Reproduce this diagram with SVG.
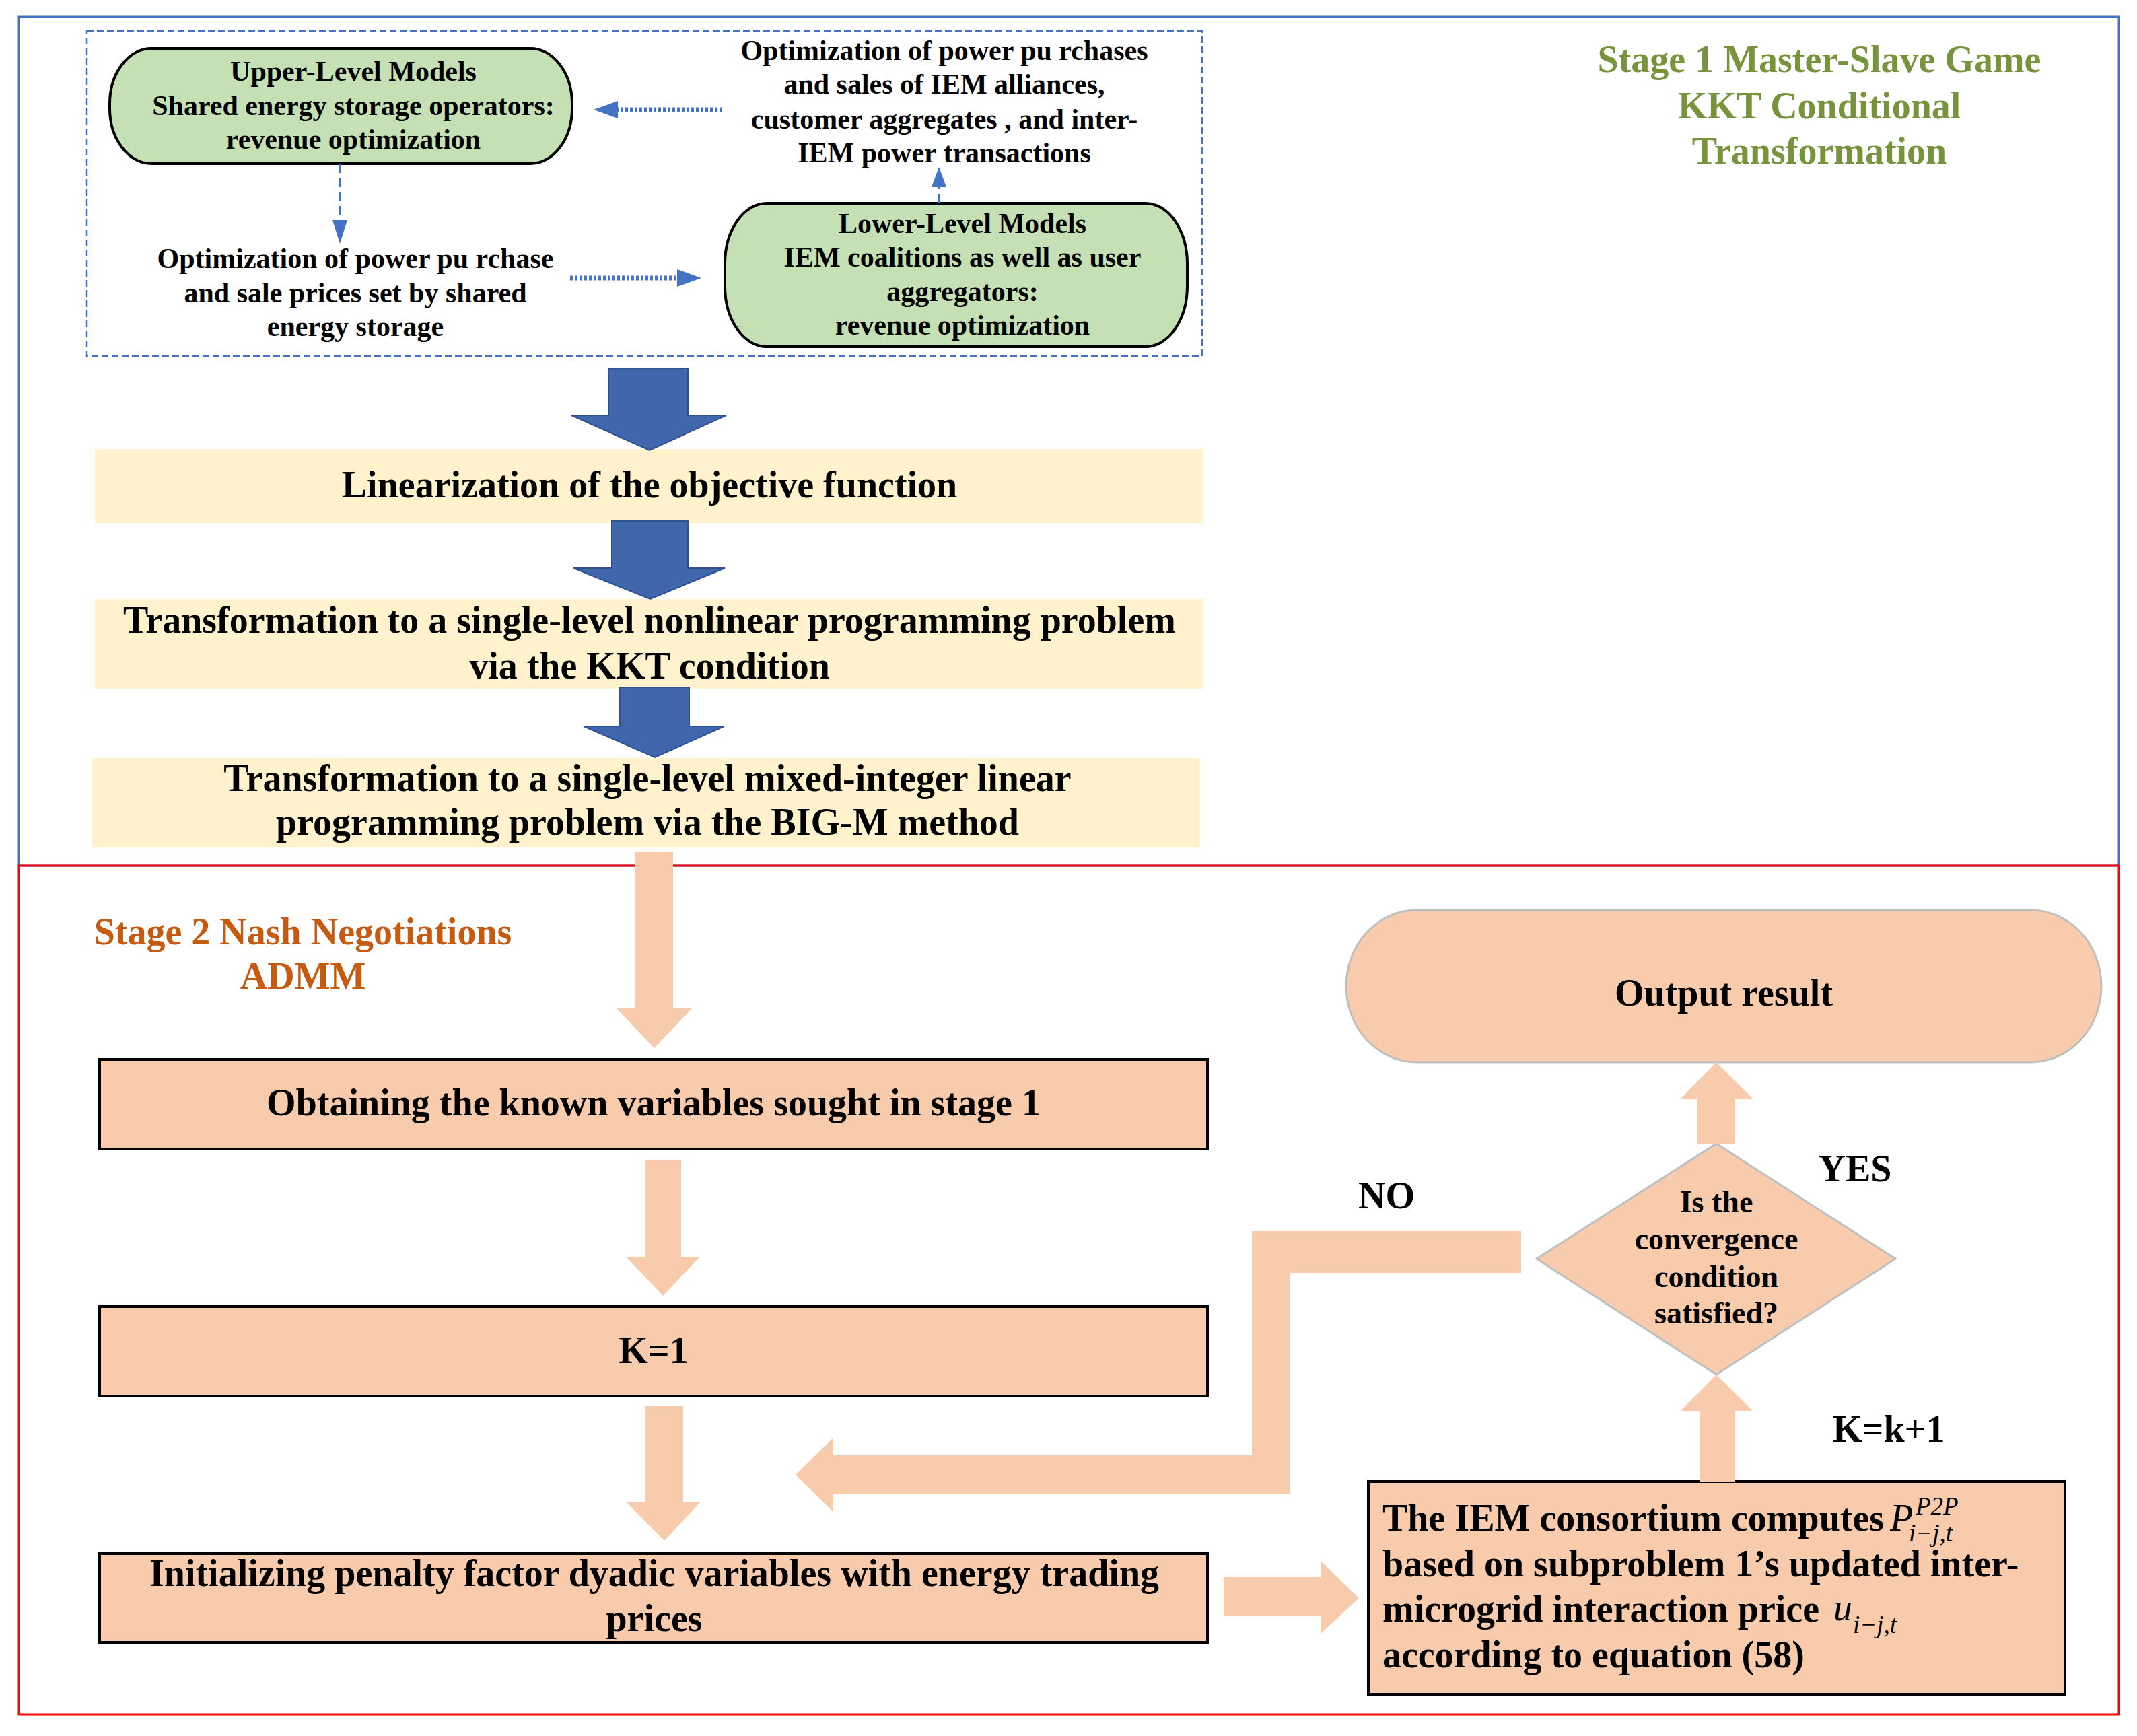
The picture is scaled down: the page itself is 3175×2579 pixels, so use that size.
<svg xmlns="http://www.w3.org/2000/svg" width="3175" height="2579" viewBox="0 0 3175 2579">
<style>
text{font-family:"Liberation Serif","Times New Roman",serif;font-weight:bold;fill:#000}
.t42{font-size:42px;text-anchor:middle}
.t56{font-size:56px;text-anchor:middle}
.t46{font-size:46px;text-anchor:middle}
.lft{font-size:56px;text-anchor:start}
.m{font-weight:normal;font-style:italic}
.green{fill:#77933C;font-size:56px;text-anchor:middle}
.orange{fill:#C55A11;font-size:56px;text-anchor:middle}
.gbox{fill:#C5E0B4;stroke:#000;stroke-width:4}
.ybox{fill:#FFF2CC;stroke:none}
.pbox{fill:#F8CBAD;stroke:#000;stroke-width:4}
.pshape{fill:#F8CBAD;stroke:#BFBFBF;stroke-width:3}
.parrow{fill:#F8CBAD;stroke:none}
.barrow{fill:#4066AC;stroke:#2F528F;stroke-width:2}
.dot{stroke:#4472C4;stroke-width:7;stroke-dasharray:4 3;fill:none}
.dash{stroke:#4472C4;stroke-width:3.5;stroke-dasharray:14 7;fill:none}
.bhead{fill:#4472C4}
</style>

<g id="frames">
<rect x="28" y="25" width="3120" height="1261" fill="none" stroke="#4472C4" stroke-width="3"/>
<rect x="28" y="1286" width="3120" height="1261" fill="none" stroke="#FF0000" stroke-width="3"/>
<rect x="129" y="46" width="1657" height="483" fill="none" stroke="#4472C4" stroke-width="2.5" stroke-dasharray="10 5"/>
</g>

<g id="stage1-title">
<text class="green" x="2703" y="107">Stage 1 Master-Slave Game</text>
<text class="green" x="2703" y="176">KKT Conditional</text>
<text class="green" x="2703" y="243">Transformation</text>
</g>

<g id="stage2-title">
<text class="orange" x="450" y="1403">Stage 2 Nash Negotiations</text>
<text class="orange" x="450" y="1469">ADMM</text>
</g>

<g id="upper-level">
<rect class="gbox" x="163" y="72" width="687" height="171" rx="62" ry="82"/>
<text class="t42" x="525" y="120">Upper-Level Models</text>
<text class="t42" x="525" y="171">Shared energy storage operators:</text>
<text class="t42" x="525" y="221">revenue optimization</text>
</g>

<g id="purchases-text">
<text class="t42" x="1403" y="89">Optimization of power pu rchases</text>
<text class="t42" x="1403" y="139">and sales of IEM alliances,</text>
<text class="t42" x="1403" y="191">customer aggregates , and inter-</text>
<text class="t42" x="1403" y="241">IEM power transactions</text>
</g>

<g id="prices-text">
<text class="t42" x="528" y="398">Optimization of power pu rchase</text>
<text class="t42" x="528" y="449">and sale prices set by shared</text>
<text class="t42" x="528" y="499">energy storage</text>
</g>

<g id="lower-level">
<rect class="gbox" x="1077" y="302" width="687" height="213" rx="62" ry="90"/>
<text class="t42" x="1430" y="346">Lower-Level Models</text>
<text class="t42" x="1430" y="396">IEM coalitions as well as user</text>
<text class="t42" x="1430" y="447">aggregators:</text>
<text class="t42" x="1430" y="497">revenue optimization</text>
</g>

<g id="linearization">
<rect class="ybox" x="141" y="667" width="1647" height="110"/>
<text class="t56" x="965" y="739">Linearization of the objective function</text>
</g>

<g id="kkt">
<rect class="ybox" x="141" y="890" width="1647" height="133"/>
<text class="t56" x="965" y="940">Transformation to a single-level nonlinear programming problem</text>
<text class="t56" x="965" y="1008">via the KKT condition</text>
</g>

<g id="bigm">
<rect class="ybox" x="137" y="1126" width="1646" height="133"/>
<text class="t56" x="962" y="1175">Transformation to a single-level mixed-integer linear</text>
<text class="t56" x="962" y="1240">programming problem via the BIG-M method</text>
</g>

<g id="obtaining">
<rect class="pbox" x="148" y="1574" width="1646" height="133"/>
<text class="t56" x="971" y="1657">Obtaining the known variables sought in stage 1</text>
</g>

<g id="k1">
<rect class="pbox" x="148" y="1941" width="1646" height="133"/>
<text class="t56" x="971" y="2025">K=1</text>
</g>

<g id="initializing">
<rect class="pbox" x="148" y="2308" width="1646" height="132"/>
<text class="t56" x="972" y="2356">Initializing penalty factor dyadic variables with energy trading</text>
<text class="t56" x="972" y="2423">prices</text>
</g>

<g id="iem-consortium">
<rect class="pbox" x="2033" y="2201" width="1035" height="316"/>
<text class="lft" x="2054" y="2274">The IEM consortium computes</text>
<text class="m" x="2808" y="2274" font-size="56">P</text>
<text class="m" x="2846" y="2250" font-size="37">P2P</text>
<text class="m" x="2836" y="2290" font-size="37">i−j,t</text>
<text class="lft" x="2054" y="2342">based on subproblem 1’s updated inter-</text>
<text class="lft" x="2054" y="2409">microgrid interaction price</text>
<text class="m" x="2724" y="2407" font-size="56">u</text>
<text class="m" x="2753" y="2426" font-size="37">i−j,t</text>
<text class="lft" x="2054" y="2477">according to equation (58)</text>
</g>

<g id="decision">
<polygon class="pshape" points="2550,1699 2816,1870 2550,2042 2283,1870"/>
<text class="t46" x="2550" y="1801">Is the</text>
<text class="t46" x="2550" y="1856">convergence</text>
<text class="t46" x="2550" y="1912">condition</text>
<text class="t46" x="2550" y="1966">satisfied?</text>
</g>

<g id="output">
<rect class="pshape" x="2000" y="1352" width="1122" height="226" rx="105" ry="113"/>
<text class="t56" x="2561" y="1494">Output result</text>
</g>

<g id="labels">
<text class="t56" x="2060" y="1795">NO</text>
<text class="t56" x="2756" y="1755">YES</text>
<text class="lft" x="2723" y="2142">K=k+1</text>
</g>

<g id="connectors">
<!-- dashed blue connectors in top group -->
<line class="dot" x1="1073" y1="163" x2="914" y2="163"/>
<polygon class="bhead" points="882,163 918,150 918,176"/>
<line class="dash" x1="505" y1="243" x2="505" y2="330"/>
<polygon class="bhead" points="505,362 494,327 516,327"/>
<line class="dot" x1="847" y1="413" x2="1010" y2="413"/>
<polygon class="bhead" points="1042,413 1006,400 1006,426"/>
<line class="dash" x1="1395" y1="302" x2="1395" y2="278"/>
<polygon class="bhead" points="1395,248 1384,278 1406,278"/>

<!-- blue block arrows -->
<polygon class="barrow" points="904,547 1022,547 1022,617 1079,617 965,669 849,617 904,617"/>
<polygon class="barrow" points="909,774 1022,774 1022,844 1077,844 966,890 852,844 909,844"/>
<polygon class="barrow" points="921,1021 1024,1021 1024,1079 1076,1079 973,1125 867,1079 921,1079"/>

<!-- peach block arrows -->
<polygon class="parrow" points="943,1265 1000,1265 1000,1498 1028,1498 972,1557 916,1498 943,1498"/>
<polygon class="parrow" points="958,1724 1012,1724 1012,1867 1040,1867 985,1925 930,1867 958,1867"/>
<polygon class="parrow" points="958,2089 1015,2089 1015,2232 1040,2232 987,2289 931,2232 958,2232"/>
<polygon class="parrow" points="1818,2343 1962,2343 1962,2319 2019,2374 1962,2427 1962,2401 1818,2401"/>
<polygon class="parrow" points="2525,2201 2578,2201 2578,2096 2604,2096 2550,2042 2497,2096 2525,2096"/>
<polygon class="parrow" points="2521,1699 2578,1699 2578,1633 2605,1633 2550,1578 2496,1633 2521,1633"/>
<polygon class="parrow" points="2260,1829 1860,1829 1860,2162 1238,2162 1238,2136 1182,2191 1238,2246 1238,2220 1917,2220 1917,1891 2260,1891"/>
</g>
</svg>
